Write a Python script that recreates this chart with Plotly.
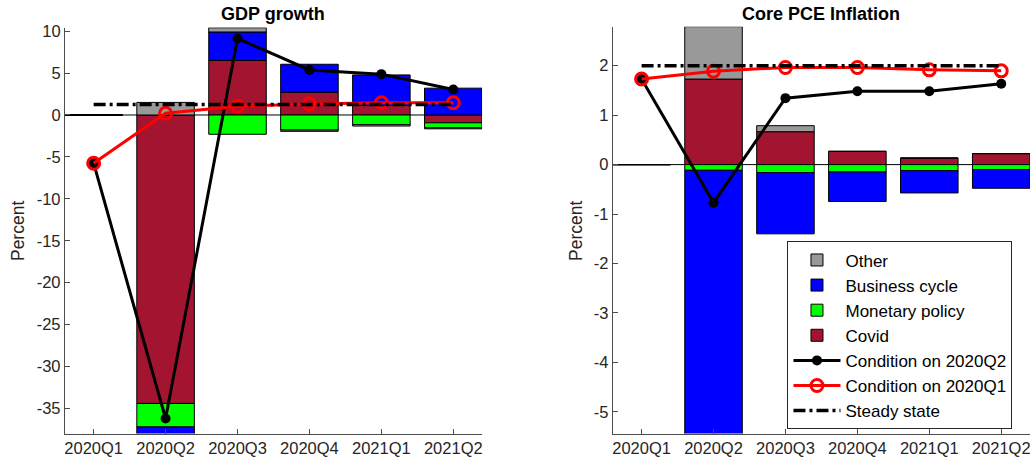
import plotly.graph_objects as go

# Quarters on the horizontal axis
quarters = ["2020Q1", "2020Q2", "2020Q3", "2020Q4", "2021Q1", "2021Q2"]

# GDP growth decomposition (percent)
gdp_covid = [0.0, -34.4, 6.5, 2.7, 1.15, -0.93]
gdp_monetary = [0.0, -2.8, -2.3, -1.8, -1.15, -0.6]
gdp_business = [0.0, -1.0, 3.4, 3.35, 3.63, 3.2]
gdp_other = [0.0, 1.5, 0.5, -0.15, -0.17, -0.12]
gdp_cond_q2 = [-5.75, -36.2, 9.13, 5.37, 4.87, 3.03]
gdp_cond_q1 = [-5.75, 0.2, 1.03, 1.3, 1.46, 1.46]
gdp_steady = 1.25

# Core PCE inflation decomposition (percent)
pce_covid = [0.0, 1.73, 0.665, 0.268, 0.133, 0.222]
pce_monetary = [0.0, -0.115, -0.16, -0.15, -0.121, -0.10]
pce_business = [0.0, -5.6, -1.24, -0.596, -0.452, -0.378]
pce_other = [0.0, 1.06, 0.122, 0.0, 0.0, 0.0]
pce_cond_q2 = [1.73, -0.77, 1.344, 1.485, 1.485, 1.634]
pce_cond_q1 = [1.73, 1.89, 1.963, 1.963, 1.916, 1.896]
pce_steady = 2.0

# y tick values for each panel
gdp_ticks = [-35, -30, -25, -20, -15, -10, -5, 0, 5, 10]
pce_ticks = [-5, -4, -3, -2, -1, 0, 1, 2]

COLORS = {
    "Other": "#999999",
    "Business cycle": "#0000FF",
    "Monetary policy": "#00FF00",
    "Covid": "#A2142F",
}
RANKS = {"Other": 1, "Business cycle": 2, "Monetary policy": 3, "Covid": 4}

fig = go.Figure()


def add_panel(xa, ya, covid, monetary, business, other, cond_q2, cond_q1, steady, legend):
    # stacking order: covid nearest zero, then monetary, business, other
    for name, vals in [("Covid", covid), ("Monetary policy", monetary),
                       ("Business cycle", business), ("Other", other)]:
        fig.add_trace(go.Bar(
            x=quarters, y=vals, name=name, width=0.8,
            marker=dict(color=COLORS[name], line=dict(color="black", width=1)),
            xaxis=xa, yaxis=ya, showlegend=legend, legendrank=RANKS[name],
        ))
    fig.add_trace(go.Scatter(
        x=quarters, y=cond_q2, name="Condition on 2020Q2", mode="lines+markers",
        line=dict(color="black", width=3),
        marker=dict(symbol="circle", size=10, color="black"),
        xaxis=xa, yaxis=ya, showlegend=legend, legendrank=5,
    ))
    fig.add_trace(go.Scatter(
        x=quarters, y=cond_q1, name="Condition on 2020Q1", mode="lines+markers",
        line=dict(color="#FF0000", width=3),
        marker=dict(symbol="circle-open", size=12, color="#FF0000",
                    line=dict(width=3, color="#FF0000")),
        xaxis=xa, yaxis=ya, showlegend=legend, legendrank=6,
    ))
    fig.add_trace(go.Scatter(
        x=quarters, y=[steady] * len(quarters), name="Steady state", mode="lines",
        line=dict(color="black", width=3.5, dash="12px,4px,3px,4px"),
        xaxis=xa, yaxis=ya, showlegend=legend, legendrank=7,
    ))


add_panel("x", "y", gdp_covid, gdp_monetary, gdp_business, gdp_other,
          gdp_cond_q2, gdp_cond_q1, gdp_steady, False)
add_panel("x2", "y2", pce_covid, pce_monetary, pce_business, pce_other,
          pce_cond_q2, pce_cond_q1, pce_steady, True)

W, H = 1034, 466
FONT = "Liberation Sans, Arial, sans-serif"
AXIS_COLOR = "#4d4d4d"
TICK_FONT = dict(family=FONT, size=16.5, color="#262626")


def py(pixel_from_top):
    """Convert a pixel row (from the top) to a paper y fraction."""
    return 1 - pixel_from_top / H


xcommon = dict(type="category", categoryorder="array", categoryarray=quarters,
               range=[-0.4, 5.4], showline=True, linecolor=AXIS_COLOR, linewidth=1,
               ticks="inside", ticklen=5, tickcolor=AXIS_COLOR, tickfont=TICK_FONT,
               showgrid=False, zeroline=False, mirror=False, fixedrange=True)
ycommon = dict(showline=True, linecolor=AXIS_COLOR, linewidth=1,
               ticks="inside", ticklen=5, tickcolor=AXIS_COLOR, tickfont=TICK_FONT,
               showgrid=False, zeroline=False, mirror=False)

fig.update_layout(
    width=W, height=H,
    margin=dict(l=0, r=0, t=0, b=0),
    paper_bgcolor="white", plot_bgcolor="white",
    barmode="relative",
    font=dict(family=FONT, color="#262626"),
    xaxis=dict(domain=[64 / W, 482 / W], anchor="y", **xcommon),
    yaxis=dict(domain=[py(433.2), py(21.9)], anchor="x",
               range=[-38.0, 10.42], tickvals=gdp_ticks,
               ticktext=[str(v) for v in gdp_ticks], **ycommon),
    xaxis2=dict(domain=[613 / W, 1031 / W], anchor="y2", **xcommon),
    yaxis2=dict(domain=[py(433.2), py(20.9)], anchor="x2",
                range=[-5.44, 2.79], tickvals=pce_ticks,
                ticktext=[str(v) for v in pce_ticks], **ycommon),
    legend=dict(x=788 / W, y=py(238.5), xanchor="left", yanchor="top",
                bgcolor="white", bordercolor="#262626", borderwidth=1,
                font=dict(size=17, color="black", family=FONT),
                tracegroupgap=0, itemwidth=47),
    showlegend=True,
)

# zero reference lines behind the bars
for xr, yr in [("x", "y"), ("x2", "y2")]:
    fig.add_shape(type="line", xref=f"{xr} domain", yref=yr, x0=0, x1=1, y0=0, y1=0,
                  line=dict(color="black", width=1), layer="below")

# panel titles and axis labels
for cx, text in [((64 + 482) / 2 / W, "GDP growth"), ((613 + 1031) / 2 / W, "Core PCE Inflation")]:
    fig.add_annotation(x=cx, y=py(8.5), xref="paper", yref="paper", text=f"<b>{text}</b>",
                       showarrow=False, font=dict(size=18, color="black", family=FONT),
                       xanchor="center", yanchor="middle")
for px in [17, 576]:
    fig.add_annotation(x=px / W, y=py(228), xref="paper", yref="paper", text="Percent",
                       showarrow=False, textangle=-90,
                       font=dict(size=17.5, color="#262626", family=FONT),
                       xanchor="center", yanchor="middle")

fig.write_html("out.html")
